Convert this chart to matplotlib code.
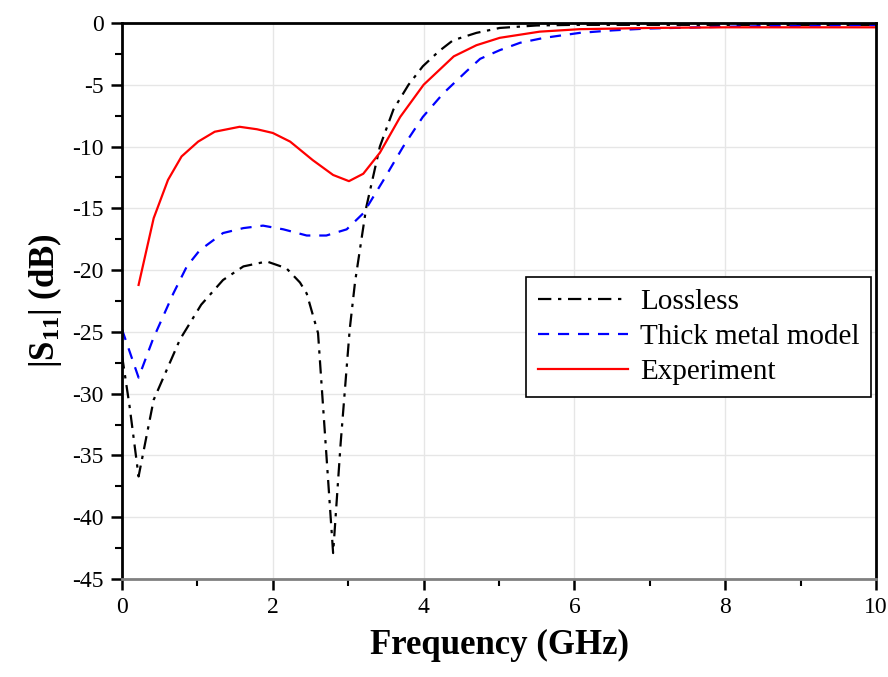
import matplotlib
matplotlib.use("Agg")
import matplotlib.pyplot as plt
from matplotlib.ticker import MultipleLocator

plt.rcParams['font.family'] = ['Liberation Serif', 'DejaVu Serif']
plt.rcParams['mathtext.fontset'] = 'custom'
plt.rcParams['mathtext.rm'] = 'Liberation Serif'
plt.rcParams['mathtext.bf'] = 'Liberation Serif:bold'
plt.rcParams['axes.unicode_minus'] = False

# --- S11 curves (GHz, dB) ---
freq_lossless = [0.0, 0.1, 0.22, 0.42, 0.77, 1.05, 1.34, 1.61, 1.92, 2.18, 2.36, 2.45,
                 2.6, 2.7, 2.8, 2.9, 3.02, 3.09, 3.24, 3.42, 3.6, 3.8, 3.99, 4.2,
                 4.39, 4.7, 5.01, 5.5, 6.0, 7.0, 8.0, 9.0, 10.0]
s11_lossless = [-26.9, -31.0, -36.7, -30.5, -25.6, -22.8, -20.8, -19.7, -19.3, -19.85, -21.0, -21.9,
                -25.1, -34.0, -42.9, -34.0, -24.8, -21.0, -14.9, -10.0, -7.0, -5.0, -3.5, -2.3,
                -1.4, -0.8, -0.4, -0.2, -0.15, -0.15, -0.15, -0.15, -0.15]

freq_thick = [0.0, 0.22, 0.41, 0.68, 0.86, 1.03, 1.34, 1.61, 1.87, 2.14, 2.45, 2.71,
              2.98, 3.2, 3.46, 3.73, 3.99, 4.26, 4.57, 4.75, 5.01, 5.28, 5.6, 6.07,
              6.5, 6.96, 8.0, 9.0, 10.0]
s11_thick = [-24.8, -28.7, -25.6, -21.9, -19.7, -18.4, -17.0, -16.6, -16.4, -16.7, -17.2, -17.2,
             -16.7, -15.4, -12.8, -10.0, -7.6, -5.7, -3.9, -2.9, -2.2, -1.6, -1.2, -0.8,
             -0.6, -0.45, -0.3, -0.22, -0.16]

freq_exp = [0.22, 0.42, 0.61, 0.79, 1.01, 1.23, 1.56, 1.79, 2.0, 2.23, 2.53, 2.8,
            3.01, 3.2, 3.42, 3.69, 4.0, 4.4, 4.7, 5.01, 5.54, 6.07, 7.0, 8.0, 9.0, 10.0]
s11_exp = [-21.2, -15.8, -12.7, -10.8, -9.6, -8.8, -8.4, -8.6, -8.9, -9.6, -11.1, -12.3,
           -12.8, -12.2, -10.5, -7.6, -5.0, -2.7, -1.8, -1.2, -0.7, -0.5, -0.4, -0.35, -0.35, -0.35]

fig = plt.figure(figsize=(8.88, 6.77), dpi=100)
ax = fig.add_axes([122 / 888, 1 - 579 / 677, 754 / 888, 556 / 677])

ax.plot(freq_lossless, s11_lossless, color='black', linewidth=1.6,
        linestyle=(0, (6, 3, 1.5, 3)), label='Lossless')
ax.plot(freq_thick, s11_thick, color='blue', linewidth=1.6,
        linestyle=(0, (5, 4)), label='Thick metal model')
ax.plot(freq_exp, s11_exp, color='red', linewidth=1.6, label='Experiment')

ax.set_xlim(0, 10)
ax.set_ylim(-45, 0)
ax.xaxis.set_major_locator(MultipleLocator(2))
ax.xaxis.set_minor_locator(MultipleLocator(1))
ax.yaxis.set_major_locator(MultipleLocator(5))
ax.yaxis.set_minor_locator(MultipleLocator(2.5))
ax.grid(True, which='major', color='#e6e6e6', linewidth=1)
ax.set_axisbelow(True)

ax.tick_params(which='major', direction='out', length=8, width=1.8,
               labelsize=17, top=False, right=False, pad=5)
ax.tick_params(which='minor', direction='out', length=5, width=1.5,
               top=False, right=False)

for side in ['top', 'right', 'left']:
    ax.spines[side].set_linewidth(2)
    ax.spines[side].set_color('black')
ax.spines['bottom'].set_linewidth(2)
ax.spines['bottom'].set_color('#808080')

ax.set_xlabel('Frequency (GHz)', fontsize=25, fontweight='bold', labelpad=8)
ax.set_ylabel(r'$\mathbf{|S_{11}|}$ (dB)', fontsize=25, fontweight='bold', labelpad=6)

leg = ax.legend(loc='upper left', bbox_to_anchor=(0.536, 0.543), fontsize=21,
                frameon=True, fancybox=False, edgecolor='black', framealpha=1,
                borderpad=0.4, labelspacing=0.29, handlelength=3.1, handletextpad=0.4,
                borderaxespad=0)
leg.get_frame().set_linewidth(1.2)

fig.savefig('out.png', dpi=100)
